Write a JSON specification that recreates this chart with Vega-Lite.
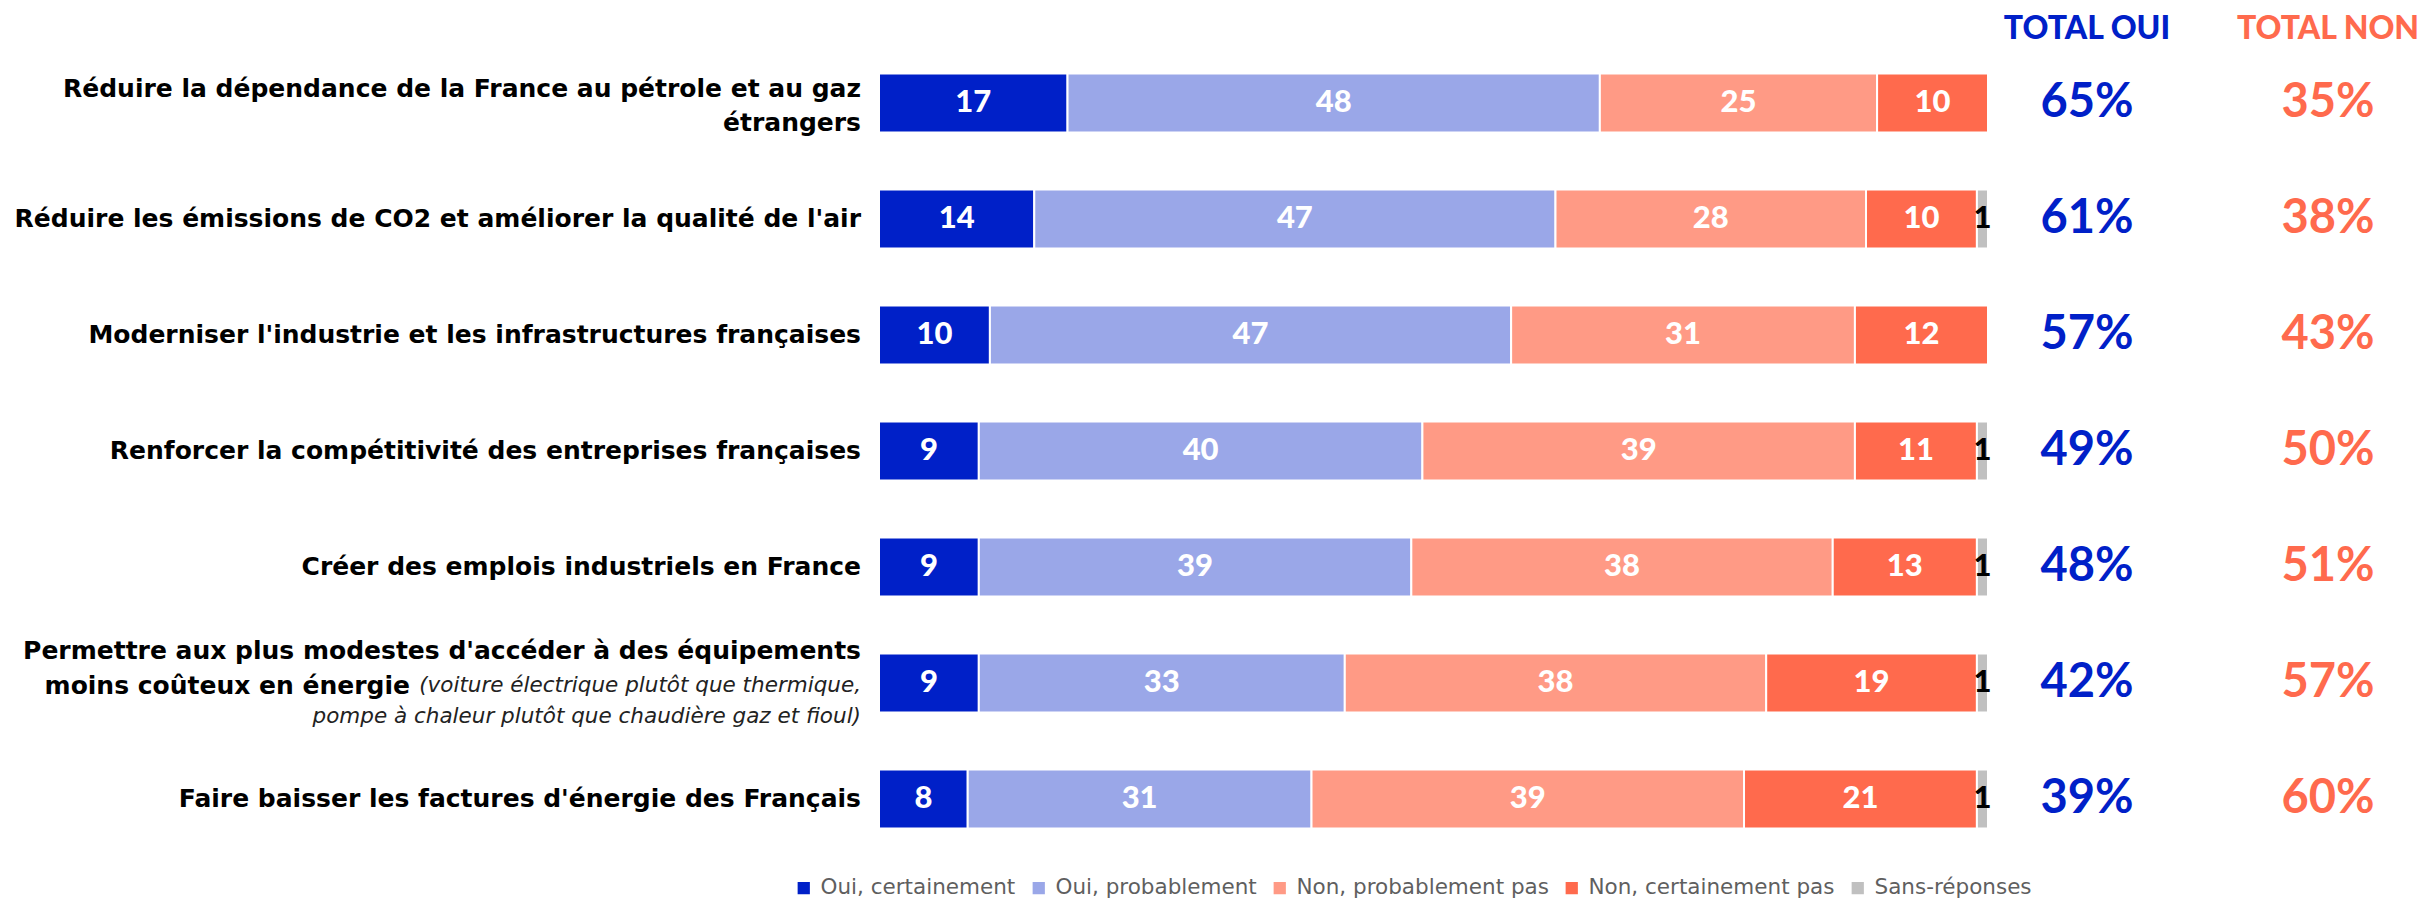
{
  "$schema": "https://vega.github.io/schema/vega-lite/v6.json",
  "padding": {"left": 0, "top": 13, "right": 0, "bottom": 0},
  "autosize": {"type": "pad"},
  "background": "white",
  "bounds": "flush",
  "spacing": 18,
  "config": {"view": {"stroke": null}},
  "resolve": {"scale": {"color": "independent"}, "legend": {"color": "independent"}},
  "datasets": {
    "questions": [
      {"q": "Q1", "bold": ["Réduire la dépendance de la France au pétrole et au gaz", "étrangers"], "extra": null, "italic": null, "oui": 65, "non": 35},
      {"q": "Q2", "bold": "Réduire les émissions de CO2 et améliorer la qualité de l'air", "extra": null, "italic": null, "oui": 61, "non": 38},
      {"q": "Q3", "bold": "Moderniser l'industrie et les infrastructures françaises", "extra": null, "italic": null, "oui": 57, "non": 43},
      {"q": "Q4", "bold": "Renforcer la compétitivité des entreprises françaises", "extra": null, "italic": null, "oui": 49, "non": 50},
      {"q": "Q5", "bold": "Créer des emplois industriels en France", "extra": null, "italic": null, "oui": 48, "non": 51},
      {"q": "Q6", "bold": "Permettre aux plus modestes d'accéder à des équipements", "extra": "moins coûteux en énergie", "italic": ["(voiture électrique plutôt que thermique,", "pompe à chaleur plutôt que chaudière gaz et fioul)"], "oui": 42, "non": 57},
      {"q": "Q7", "bold": "Faire baisser les factures d'énergie des Français", "extra": null, "italic": null, "oui": 39, "non": 60}
    ],
    "answers": [
      {"q": "Q1", "cat": "Oui, certainement", "order": 1, "value": 17},
      {"q": "Q1", "cat": "Oui, probablement", "order": 2, "value": 48},
      {"q": "Q1", "cat": "Non, probablement pas", "order": 3, "value": 25},
      {"q": "Q1", "cat": "Non, certainement pas", "order": 4, "value": 10},
      {"q": "Q2", "cat": "Oui, certainement", "order": 1, "value": 14},
      {"q": "Q2", "cat": "Oui, probablement", "order": 2, "value": 47},
      {"q": "Q2", "cat": "Non, probablement pas", "order": 3, "value": 28},
      {"q": "Q2", "cat": "Non, certainement pas", "order": 4, "value": 10},
      {"q": "Q2", "cat": "Sans-réponses", "order": 5, "value": 1},
      {"q": "Q3", "cat": "Oui, certainement", "order": 1, "value": 10},
      {"q": "Q3", "cat": "Oui, probablement", "order": 2, "value": 47},
      {"q": "Q3", "cat": "Non, probablement pas", "order": 3, "value": 31},
      {"q": "Q3", "cat": "Non, certainement pas", "order": 4, "value": 12},
      {"q": "Q4", "cat": "Oui, certainement", "order": 1, "value": 9},
      {"q": "Q4", "cat": "Oui, probablement", "order": 2, "value": 40},
      {"q": "Q4", "cat": "Non, probablement pas", "order": 3, "value": 39},
      {"q": "Q4", "cat": "Non, certainement pas", "order": 4, "value": 11},
      {"q": "Q4", "cat": "Sans-réponses", "order": 5, "value": 1},
      {"q": "Q5", "cat": "Oui, certainement", "order": 1, "value": 9},
      {"q": "Q5", "cat": "Oui, probablement", "order": 2, "value": 39},
      {"q": "Q5", "cat": "Non, probablement pas", "order": 3, "value": 38},
      {"q": "Q5", "cat": "Non, certainement pas", "order": 4, "value": 13},
      {"q": "Q5", "cat": "Sans-réponses", "order": 5, "value": 1},
      {"q": "Q6", "cat": "Oui, certainement", "order": 1, "value": 9},
      {"q": "Q6", "cat": "Oui, probablement", "order": 2, "value": 33},
      {"q": "Q6", "cat": "Non, probablement pas", "order": 3, "value": 38},
      {"q": "Q6", "cat": "Non, certainement pas", "order": 4, "value": 19},
      {"q": "Q6", "cat": "Sans-réponses", "order": 5, "value": 1},
      {"q": "Q7", "cat": "Oui, certainement", "order": 1, "value": 8},
      {"q": "Q7", "cat": "Oui, probablement", "order": 2, "value": 31},
      {"q": "Q7", "cat": "Non, probablement pas", "order": 3, "value": 39},
      {"q": "Q7", "cat": "Non, certainement pas", "order": 4, "value": 21},
      {"q": "Q7", "cat": "Sans-réponses", "order": 5, "value": 1}
    ]
  },
  "hconcat": [
    {
      "width": 861,
      "height": 812,
      "data": {"name": "questions"},
      "encoding": {
        "y": {"field": "q", "type": "nominal", "axis": null, "scale": {"type": "band", "domain": ["Q1","Q2","Q3","Q4","Q5","Q6","Q7"], "paddingInner": 0.49, "paddingOuter": 0.245}},
        "x": {"datum": 1, "type": "quantitative", "axis": null, "scale": {"domain": [0, 1], "nice": false}}
      },
      "layer": [
        {
          "transform": [{"filter": "!isArray(datum.bold) && datum.extra == null"}],
          "mark": {"type": "text", "align": "right", "baseline": "middle", "font": "DejaVu Sans", "fontWeight": "bold", "fontSize": 25, "color": "#000000"},
          "encoding": {"text": {"field": "bold"}}
        },
        {
          "transform": [{"filter": "isArray(datum.bold)"}],
          "mark": {"type": "text", "align": "right", "baseline": "middle", "font": "DejaVu Sans", "fontWeight": "bold", "fontSize": 25, "lineHeight": 34, "dy": -14, "color": "#000000"},
          "encoding": {"text": {"field": "bold"}}
        },
        {
          "transform": [{"filter": "datum.extra != null"}],
          "mark": {"type": "text", "align": "right", "baseline": "middle", "font": "DejaVu Sans", "fontWeight": "bold", "fontSize": 25, "dy": -32, "color": "#000000"},
          "encoding": {"text": {"field": "bold"}}
        },
        {
          "transform": [{"filter": "datum.extra != null"}],
          "mark": {"type": "text", "align": "right", "baseline": "middle", "font": "DejaVu Sans", "fontWeight": "bold", "fontSize": 25, "dx": -451, "dy": 3, "color": "#000000"},
          "encoding": {"text": {"field": "extra"}}
        },
        {
          "transform": [{"filter": "datum.italic != null"}],
          "mark": {"type": "text", "align": "right", "baseline": "middle", "font": "DejaVu Sans", "fontStyle": "italic", "fontWeight": "normal", "fontSize": 21.5, "lineHeight": 31, "dy": 3, "color": "#222222"},
          "encoding": {"text": {"field": "italic"}}
        }
      ]
    },
    {
      "width": 1109,
      "height": 812,
      "data": {"name": "answers"},
      "encoding": {
        "y": {"field": "q", "type": "nominal", "axis": null, "scale": {"type": "band", "domain": ["Q1","Q2","Q3","Q4","Q5","Q6","Q7"], "paddingInner": 0.49, "paddingOuter": 0.245}}
      },
      "layer": [
        {
          "mark": {"type": "bar", "stroke": "white", "strokeWidth": 2},
          "encoding": {
            "x": {"field": "value", "type": "quantitative", "stack": "zero", "axis": null, "scale": {"domain": [0, 100], "nice": false}},
            "order": {"field": "order", "type": "quantitative"},
            "color": {
              "field": "cat", "type": "nominal",
              "scale": {"domain": ["Oui, certainement", "Oui, probablement", "Non, probablement pas", "Non, certainement pas", "Sans-réponses"], "range": ["#0020C8", "#9AA7E8", "#FF9A85", "#FF6A4D", "#C0C0C0"]},
              "legend": {"orient": "none", "legendX": -86, "legendY": 832, "direction": "horizontal", "title": null, "symbolType": "square", "symbolSize": 150, "symbolStrokeWidth": 0, "labelFont": "DejaVu Sans", "labelFontSize": 21.5, "labelLimit": 0, "labelColor": "#5f5f5f", "columnPadding": 12, "labelOffset": 6, "padding": 0}
            }
          }
        },
        {
          "mark": {"type": "text", "font": "Lato", "fontWeight": 900, "fontSize": 31, "baseline": "middle", "align": "center"},
          "encoding": {
            "x": {"field": "value", "type": "quantitative", "stack": "zero", "bandPosition": 0.5},
            "order": {"field": "order", "type": "quantitative"},
            "detail": {"field": "cat"},
            "text": {"field": "value", "type": "quantitative"},
            "color": {"condition": {"test": "datum.cat === 'Sans-réponses'", "value": "#000000"}, "value": "#ffffff"}
          }
        }
      ]
    },
    {
      "bounds": "flush",
      "spacing": 70,
      "hconcat": [
        {
          "width": 162,
          "height": 812,
          "data": {"name": "questions"},
          "title": {"text": "TOTAL OUI", "color": "#0020C8", "font": "Lato", "fontWeight": 900, "fontSize": 32, "anchor": "middle", "frame": "group", "baseline": "alphabetic", "offset": -26},
          "transform": [{"calculate": "datum.oui + '%'", "as": "label"}],
          "mark": {"type": "text", "font": "Lato", "fontWeight": "bold", "fontSize": 47, "color": "#0020C8", "baseline": "middle", "align": "center"},
          "encoding": {
            "y": {"field": "q", "type": "nominal", "axis": null, "scale": {"type": "band", "domain": ["Q1","Q2","Q3","Q4","Q5","Q6","Q7"], "paddingInner": 0.49, "paddingOuter": 0.245}},
            "text": {"field": "label"}
          }
        },
        {
          "width": 180,
          "height": 812,
          "data": {"name": "questions"},
          "title": {"text": "TOTAL NON", "color": "#FF6A4D", "font": "Lato", "fontWeight": 900, "fontSize": 32, "anchor": "middle", "frame": "group", "baseline": "alphabetic", "offset": -26},
          "transform": [{"calculate": "datum.non + '%'", "as": "label"}],
          "mark": {"type": "text", "font": "Lato", "fontWeight": "bold", "fontSize": 47, "color": "#FF6A4D", "baseline": "middle", "align": "center"},
          "encoding": {
            "y": {"field": "q", "type": "nominal", "axis": null, "scale": {"type": "band", "domain": ["Q1","Q2","Q3","Q4","Q5","Q6","Q7"], "paddingInner": 0.49, "paddingOuter": 0.245}},
            "text": {"field": "label"}
          }
        }
      ]
    }
  ]
}
